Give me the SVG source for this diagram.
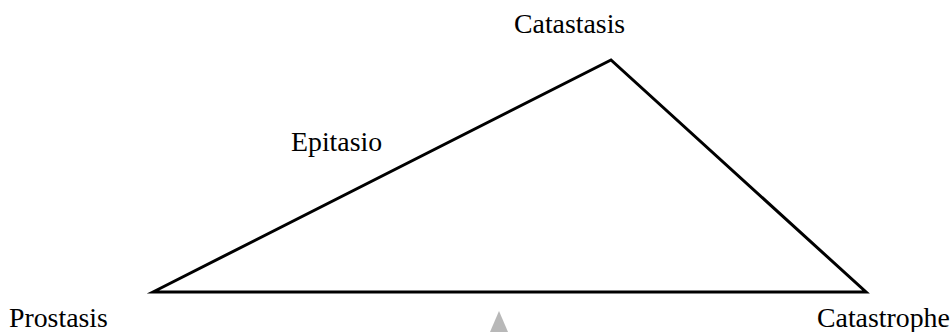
<svg xmlns="http://www.w3.org/2000/svg" width="952" height="332" viewBox="0 0 952 332">
<style>
.lbl{font-family:"Liberation Serif","Times New Roman",serif;font-size:27.8px;fill:#000}
.edge{fill:none;stroke:#000;stroke-width:3;stroke-linejoin:miter;stroke-miterlimit:10}
</style>
<rect width="952" height="332" fill="#fff"/>
<g id="connectors">
<polygon class="edge" points="153,292 611,60 866,292"/>
</g>
<g id="node-catastasis"><text class="lbl" x="514" y="33">Catastasis</text></g>
<g id="node-epitasio"><text class="lbl" x="291" y="151">Epitasio</text></g>
<g id="node-prostasis"><text class="lbl" x="9" y="327">Prostasis</text></g>
<g id="node-catastrophe"><text class="lbl" x="817" y="327">Catastrophe</text></g>
<g id="marker-gray"><polygon points="499,311 490,332 508,332" fill="#b8b8b8"/></g>
</svg>
